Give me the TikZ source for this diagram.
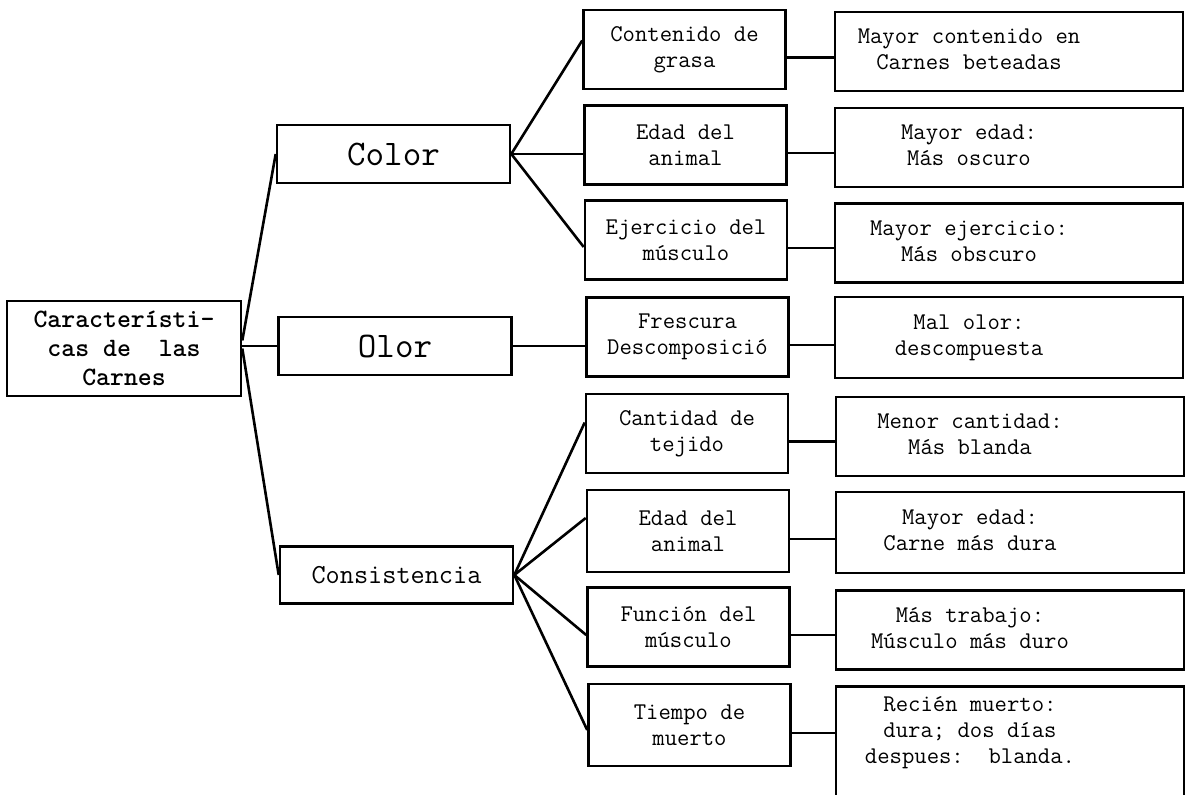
\documentclass[tikz,border=0pt]{standalone}
\usetikzlibrary{positioning}

% texto de la columna derecha, algo corrido a la izquierda
\newcommand{\derecha}[1]{\begin{tabular}{@{}c@{\hskip80pt}}#1\end{tabular}}

\begin{document}
\begin{tikzpicture}[x=1pt,y=-1pt,
    line width=2.6pt,
    caja/.style={draw, align=center, inner sep=0pt},
    nivel/.style={caja, minimum width=233pt, minimum height=58pt},
    sub/.style={caja, minimum width=202pt, minimum height=79pt,
      font=\ttfamily\fontsize{24}{26}\selectfont},
    efecto/.style={caja, minimum width=348pt, minimum height=79pt,
      font=\ttfamily\fontsize{24}{26}\selectfont}
  ]
  \useasboundingbox (0,0) rectangle (1186,795);

  % raiz
  \node[caja, minimum width=234pt, minimum height=95pt,
    font=\ttfamily\bfseries\fontsize{26.5}{29}\selectfont] (raiz) at (124,348.5)
    {Característi-\\cas de\ \ las\\Carnes};

  % primer nivel
  \node[nivel, font=\ttfamily\fontsize{36}{40}\selectfont] (color) at (393.5,154) {Color};
  \node[nivel, font=\ttfamily\fontsize{36}{40}\selectfont] (olor) at (395,346) {Olor};
  \node[nivel, minimum height=57pt, font=\ttfamily\fontsize{27.5}{30}\selectfont] (consist) at (396.5,575) {Consistencia};

  % segundo nivel
  \node[sub] (grasa) at (684.5,49.5) {Contenido de\\grasa};
  \node[sub] (edadc) at (685.5,145) {Edad del\\animal};
  \node[sub] (ejerc) at (686,240) {Ejercicio del\\músculo};
  \node[sub] (fresc) at (687.5,337) {Frescura\\Descomposició};
  \node[sub] (tejido) at (687,433.5) {Cantidad de\\tejido};
  \node[sub, minimum height=82pt] (edadk) at (688,531) {Edad del\\animal};
  \node[sub] (funcion) at (688.5,627) {Función del\\músculo};
  \node[sub, minimum height=82pt] (tiempo) at (689.5,725) {Tiempo de\\muerto};

  % efectos
  \node[efecto] (rgrasa) at (1009,51.5) {\derecha{Mayor contenido en\\Carnes beteadas}};
  \node[efecto] (redadc) at (1009,147.5) {\derecha{Mayor edad:\\Más oscuro}};
  \node[efecto] (rejerc) at (1009,243) {\derecha{Mayor ejercicio:\\Más obscuro}};
  \node[efecto, minimum height=81pt] (rfresc) at (1009,337.5) {\derecha{Mal olor:\\descompuesta}};
  \node[efecto] (rtejido) at (1010,436.5) {\derecha{Menor cantidad:\\Más blanda}};
  \node[efecto, minimum height=81pt] (redadk) at (1010,532.5) {\derecha{Mayor edad:\\Carne más dura}};
  \node[efecto] (rfuncion) at (1010,630) {\derecha{Más trabajo:\\Músculo más duro}};
  \node[efecto, anchor=north, inner ysep=7pt, text depth=120pt] (rtiempo) at (1010,685)
    {\derecha{Recién muerto:\\dura; dos días\\despues:\ \ blanda.}};

  % conectores
  \draw ([yshift=8pt]raiz.east) -- (color.west);
  \draw (olor.west -| raiz.east) -- (olor.west);
  \draw (raiz.east) -- (consist.west);

  \draw (color.east) -- ([yshift=9pt]grasa.west);
  \draw (color.east) -- (color.east -| edadc.west);
  \draw (color.east) -- ([yshift=-7pt]ejerc.west);
  \draw (olor.east) -- (olor.east -| fresc.west);
  \draw (consist.east) -- ([yshift=11pt]tejido.west);
  \draw (consist.east) -- ([yshift=13pt]edadk.west);
  \draw (consist.east) -- ([yshift=-8pt]funcion.west);
  \draw (consist.east) -- ([yshift=-5pt]tiempo.west);

  \foreach \a/\b in {grasa/rgrasa, edadc/redadc, ejerc/rejerc, fresc/rfresc,
      tejido/rtejido, edadk/redadk, funcion/rfuncion, tiempo/rtiempo}
    \draw ([yshift=-8pt]\a.east) -- ([yshift=-8pt]\a.east -| \b.west);
\end{tikzpicture}
\end{document}
